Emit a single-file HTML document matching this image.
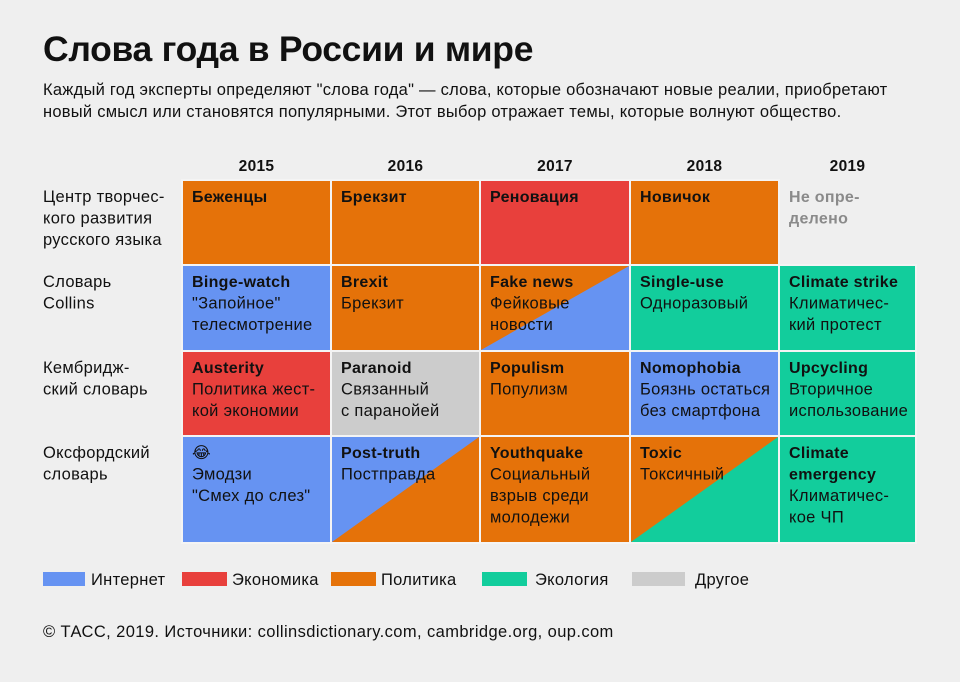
<!DOCTYPE html>
<html><head><meta charset="utf-8">
<style>
body{margin:0;width:960px;height:682px;background:#efefef;font-family:"Liberation Sans","DejaVu Sans",sans-serif;color:#111;position:relative;overflow:hidden}
.t{position:absolute;white-space:nowrap}
</style></head><body>
<div class="t" style="left:43px;top:29px;font-size:35.5px;font-weight:bold;letter-spacing:-0.3px">Слова года в России и мире</div>
<div class="t" style="left:43px;top:79px;font-size:16.5px;letter-spacing:0.25px;line-height:22px">Каждый год эксперты определяют "слова года" — слова, которые обозначают новые реалии, приобретают<br>новый смысл или становятся популярными. Этот выбор отражает темы, которые волнуют общество.</div>
<svg id="grid" width="960" height="682" style="position:absolute;left:0;top:0"></svg>
<div class="t" style="left:43px;top:623px;font-size:16.5px;letter-spacing:0.4px">© ТАСС, 2019. Источники: collinsdictionary.com, cambridge.org, oup.com</div>
<script>
const years=["2015","2016","2017","2018","2019"];
const sources=[["Центр творчес-","кого развития","русского языка"],["Словарь","Collins"],["Кембридж-","ский словарь"],["Оксфордский","словарь"]];
const colors={i:"#6693f2",e:"#e8403c",p:"#e57209",g:"#12cd9c",o:"#cccccc"};
const cats=[["p","p","e","p",""],["i","p","p/i","g","g"],["e","o","p","i","g"],["i","i/p","p","p/g","g"]];
const titles=[["Беженцы","Брекзит","Реновация","Новичок","Не опре-|делено"],["Binge-watch","Brexit","Fake news","Single-use","Climate strike"],["Austerity","Paranoid","Populism","Nomophobia","Upcycling"],["😂","Post-truth","Youthquake","Toxic","Climate|emergency"]];
const descs=[["","","","",""],["\"Запойное\"|телесмотрение","Брекзит","Фейковые|новости","Одноразовый","Климатичес-|кий протест"],["Политика жест-|кой экономии","Связанный|с паранойей","Популизм","Боязнь остаться|без смартфона","Вторичное|использование"],["Эмодзи|\"Смех до слез\"","Постправда","Социальный|взрыв среди|молодежи","Токсичный","Климатичес-|кое ЧП"]];
const legendKeys=["i","e","p","g","o"];
const legendLabels=["Интернет","Экономика","Политика","Экология","Другое"];
const colX=[182,331,480,630,779,916], rowY=[180,265,351,436,543];
const svg=document.getElementById("grid"),NS="http://www.w3.org/2000/svg";
function mk(t,a){const e=document.createElementNS(NS,t);for(const k in a)e.setAttribute(k,a[k]);svg.appendChild(e);return e;}
function txt(x,y,s,size,w,fill){const e=mk("text",{x:x,y:y,"font-size":size,"font-weight":w,fill:fill||"#111","letter-spacing":"0.3","font-family":"Liberation Sans, DejaVu Sans, sans-serif"});e.textContent=s;return e;}
years.forEach((y,i)=>{const e=txt((colX[i]+colX[i+1])/2,171,y,15.5,"bold");e.setAttribute("text-anchor","middle");

});
sources.forEach((s,r)=>{s.forEach((l,k)=>{const e=txt(43,rowY[r]+22+k*21.5,l,16.5,"normal");

});});
cats.forEach((row,r)=>row.forEach((c,ci)=>{
 const x0=colX[ci],x1=colX[ci+1],y0=rowY[r],y1=rowY[r+1];
 if(c){const p=c.split("/");
  const rc=mk("rect",{x:x0,y:y0,width:x1-x0,height:y1-y0,fill:colors[p[0]],stroke:"#f4f4f4","stroke-width":2});
  
  
  if(p[1]){const tr=mk("polygon",{points:`${x0+1},${y1-1} ${x1-1},${y0+1} ${x1-1},${y1-1}`,fill:colors[p[1]]});
   
   }
 }
 const tl=titles[r][ci].split("|");let yy=y0+22;
 tl.forEach(l=>{const e=txt(x0+10,yy,l,16,"bold",c?"#111":"#8a8a8a");
  
  yy+=21.5;});
 if(descs[r][ci])descs[r][ci].split("|").forEach(l=>{const e=txt(x0+10,yy,l,16.5,"normal");
  
  yy+=21.5;});
}));
const lx=[43,182,331,482,632];
const tx=[91,232,381,535,695];
const lw=[42,45,45,45,53];
legendKeys.forEach((k,i)=>{const r=mk("rect",{x:lx[i],y:572,width:lw[i],height:14,fill:colors[k]});


const e=txt(tx[i],585,legendLabels[i],16.5,"normal");

});
</script>
</body></html>
